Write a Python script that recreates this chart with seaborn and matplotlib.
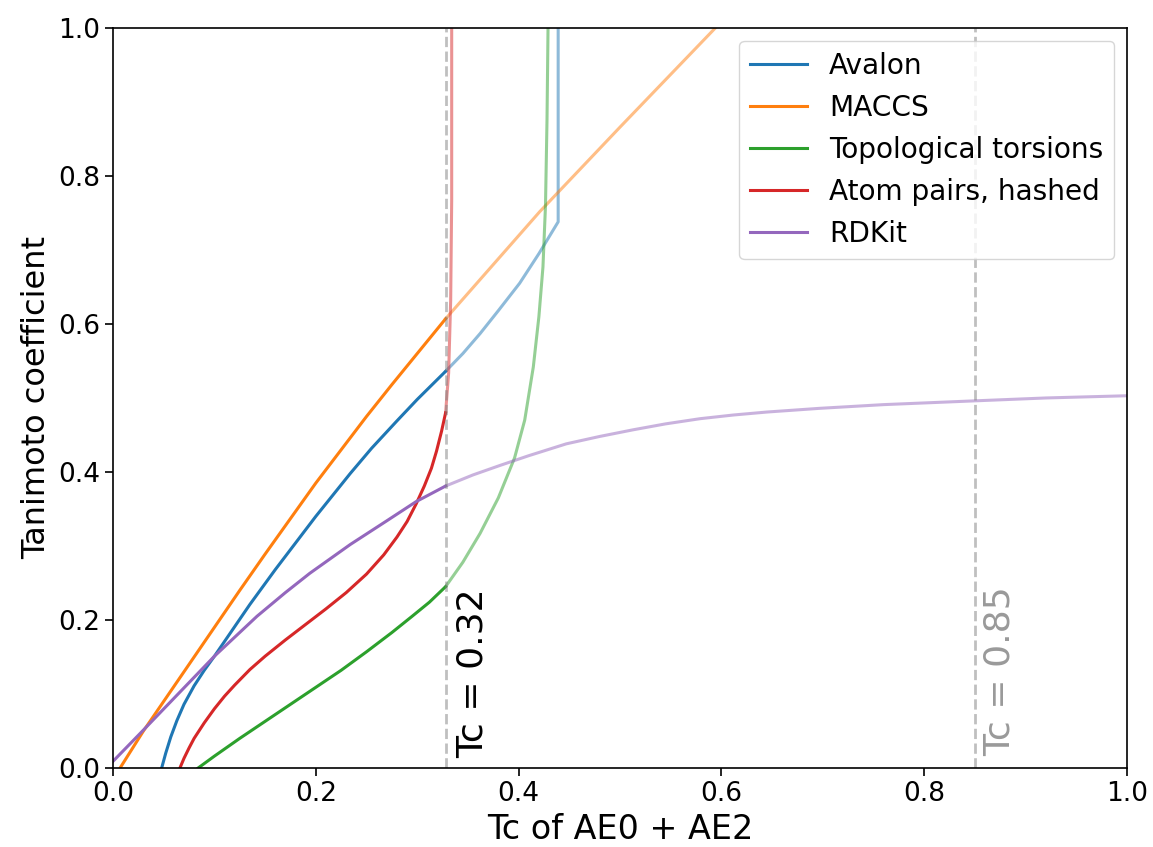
import matplotlib
matplotlib.use('Agg')
import matplotlib.pyplot as plt
import seaborn as sns
import pandas as pd

# fingerprint curves, solid part up to the Tc = 0.32 threshold, faded part beyond it
NAMES = ['Avalon', 'MACCS', 'Topological torsions', 'Atom pairs, hashed', 'RDKit']

avalon_x = [0.048, 0.052, 0.057, 0.063, 0.07, 0.08, 0.09, 0.1, 0.115, 0.135, 0.16, 0.18,
            0.2, 0.234, 0.255, 0.28, 0.3, 0.328]
avalon_y = [0.0, 0.02, 0.042, 0.064, 0.086, 0.111, 0.132, 0.151, 0.181, 0.221, 0.268, 0.304,
            0.34, 0.398, 0.432, 0.469, 0.498, 0.536]
avalon_x2 = [0.328, 0.345, 0.362, 0.38, 0.401, 0.42, 0.439, 0.439]
avalon_y2 = [0.536, 0.56, 0.587, 0.618, 0.655, 0.695, 0.738, 1.0]

maccs_x = [0.007, 0.03, 0.05, 0.075, 0.1, 0.125, 0.15, 0.175, 0.2, 0.225, 0.25, 0.275, 0.3, 0.328]
maccs_y = [0.0, 0.05, 0.09, 0.14, 0.19, 0.24, 0.289, 0.337, 0.385, 0.43, 0.475, 0.518, 0.56, 0.607]
maccs_x2 = [0.328, 0.421, 0.5, 0.594]
maccs_y2 = [0.607, 0.752, 0.866, 1.0]

tt_x = [0.084, 0.1, 0.125, 0.15, 0.175, 0.2, 0.225, 0.25, 0.275, 0.295, 0.312, 0.328]
tt_y = [0.0, 0.016, 0.04, 0.063, 0.086, 0.109, 0.132, 0.157, 0.183, 0.205, 0.224, 0.245]
tt_x2 = [0.328, 0.345, 0.362, 0.38, 0.396, 0.406, 0.4145, 0.42, 0.424, 0.4265, 0.428, 0.429]
tt_y2 = [0.245, 0.278, 0.317, 0.365, 0.419, 0.47, 0.542, 0.61, 0.677, 0.76, 0.876, 1.0]

ap_x = [0.066, 0.07, 0.075, 0.08, 0.09, 0.1, 0.11, 0.12, 0.135, 0.15, 0.17, 0.19, 0.21, 0.23,
        0.25, 0.267, 0.28, 0.29, 0.299, 0.307, 0.314, 0.319, 0.324, 0.328]
ap_y = [0.0, 0.013, 0.027, 0.04, 0.061, 0.08, 0.097, 0.112, 0.133, 0.151, 0.173, 0.194, 0.215,
        0.237, 0.262, 0.288, 0.312, 0.333, 0.357, 0.381, 0.405, 0.428, 0.455, 0.48]
ap_x2 = [0.328, 0.331, 0.333, 0.334, 0.334]
ap_y2 = [0.48, 0.534, 0.632, 0.768, 1.0]

rdk_x = [0.0, 0.027, 0.06, 0.1, 0.142, 0.17, 0.194, 0.234, 0.27, 0.299, 0.328]
rdk_y = [0.009, 0.047, 0.094, 0.151, 0.205, 0.237, 0.263, 0.302, 0.334, 0.36, 0.381]
rdk_x2 = [0.328, 0.355, 0.382, 0.41, 0.447, 0.48, 0.513, 0.545, 0.579, 0.612, 0.645, 0.697,
          0.76, 0.848, 0.92, 1.0]
rdk_y2 = [0.381, 0.396, 0.409, 0.422, 0.438, 0.448, 0.457, 0.465, 0.472, 0.477, 0.481, 0.486,
          0.491, 0.496, 0.5, 0.503]

THRESHOLDS = [0.328, 0.85]
THRESH_LABELS = ['Tc = 0.32', 'Tc = 0.85']

X_F = 'Tc of AE0 + AE2'
Y_F = 'Tanimoto coefficient'
FP_F = 'fingerprint'


def to_df(parts):
    rows = {X_F: [], Y_F: [], FP_F: []}
    for name, xs, ys in parts:
        rows[X_F] += xs
        rows[Y_F] += ys
        rows[FP_F] += [name] * len(xs)
    return pd.DataFrame(rows)


solid = to_df([(NAMES[0], avalon_x, avalon_y), (NAMES[1], maccs_x, maccs_y),
               (NAMES[2], tt_x, tt_y), (NAMES[3], ap_x, ap_y), (NAMES[4], rdk_x, rdk_y)])
faded = to_df([(NAMES[0], avalon_x2, avalon_y2), (NAMES[1], maccs_x2, maccs_y2),
               (NAMES[2], tt_x2, tt_y2), (NAMES[3], ap_x2, ap_y2), (NAMES[4], rdk_x2, rdk_y2)])

fig, ax = plt.subplots(figsize=(11.53, 8.47), dpi=100)
fig.subplots_adjust(left=0.098, right=0.9775, bottom=0.0933, top=0.967)

sns.lineplot(data=solid, x=X_F, y=Y_F, hue=FP_F, hue_order=NAMES, palette='tab10',
             sort=False, estimator=None, linewidth=2.2, ax=ax)
sns.lineplot(data=faded, x=X_F, y=Y_F, hue=FP_F, hue_order=NAMES, palette='tab10',
             sort=False, estimator=None, linewidth=2.2, alpha=0.5, legend=False, ax=ax)

for t in THRESHOLDS:
    ax.axvline(t, color='gray', alpha=0.5, linestyle='--', linewidth=2)
ax.text(0.338, 0.013, THRESH_LABELS[0], rotation=90, fontsize=26, ha='left', va='bottom')
ax.text(0.858, 0.016, THRESH_LABELS[1], rotation=90, fontsize=26, ha='left', va='bottom',
        color='gray', alpha=0.8)

ax.set_xlim(0, 1)
ax.set_ylim(0, 1)
ax.set_xlabel(X_F, fontsize=24)
ax.set_ylabel(Y_F, fontsize=23)
ax.tick_params(labelsize=19, length=6, width=1.2)
for s in ax.spines.values():
    s.set_linewidth(1.2)

handles, labels = ax.get_legend_handles_labels()
ax.legend(handles, labels, loc='upper right', fontsize=20.2, borderaxespad=0.45)

plt.savefig('out.png', dpi=100)
